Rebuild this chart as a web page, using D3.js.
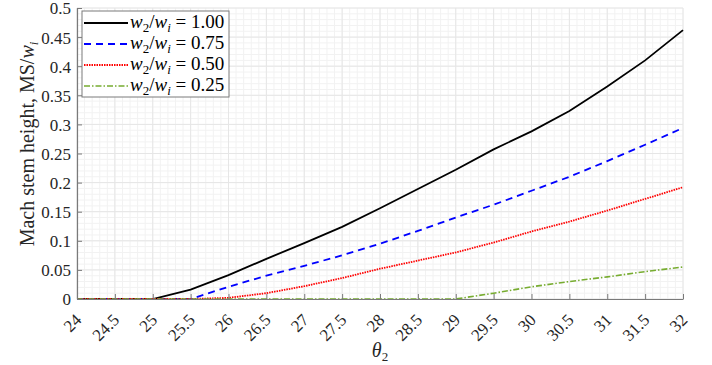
<!DOCTYPE html>
<html>
<head>
<meta charset="utf-8">
<script src="https://cdn.jsdelivr.net/npm/d3@7.9.0/dist/d3.min.js"></script>
<style>
  body { margin: 0; background: #fff; }
  svg { display: block; font-family: "Liberation Serif", "Times New Roman", serif; }
</style>
</head>
<body>
<svg id="chart" width="712" height="365"></svg>
<script>
// values
const theta = [24, 24.5, 25, 25.5, 26, 26.5, 27, 27.5, 28, 28.5, 29, 29.5, 30, 30.5, 31, 31.5, 32];
const ratio100 = [0, 0, 0, 0.016, 0.041, 0.069, 0.096, 0.124, 0.156, 0.189, 0.222, 0.257, 0.288, 0.323, 0.365, 0.41, 0.462];
const ratio075 = [0, 0, 0, 0, 0.021, 0.04, 0.057, 0.075, 0.095, 0.117, 0.14, 0.162, 0.186, 0.21, 0.237, 0.265, 0.294];
const ratio050 = [0, 0, 0, 0, 0.002, 0.01, 0.022, 0.036, 0.052, 0.066, 0.08, 0.097, 0.116, 0.133, 0.152, 0.172, 0.192];
const ratio025 = [0, 0, 0, 0, 0, 0, 0, 0, 0, 0, 0, 0.01, 0.021, 0.03, 0.038, 0.047, 0.055];
const seriesLabels = ['1.00', '0.75', '0.50', '0.25'];
const xTicks = [24, 24.5, 25, 25.5, 26, 26.5, 27, 27.5, 28, 28.5, 29, 29.5, 30, 30.5, 31, 31.5, 32];
const yTicks = [0, 0.05, 0.1, 0.15, 0.2, 0.25, 0.3, 0.35, 0.4, 0.45, 0.5];

const svg = d3.select('#chart');
const plotL = 77, plotR = 683, plotT = 8, plotB = 299;

const x = d3.scaleLinear().domain([24, 32]).range([plotL, plotR]);
const y = d3.scaleLinear().domain([0, 0.5]).range([plotB, plotT]);

// grid, minor then major
const grid = svg.append('g');
grid.selectAll('.vminor')
  .data(d3.range(24, 32.001, 0.1))
  .enter().append('line')
    .attr('x1', d => x(d)).attr('x2', d => x(d))
    .attr('y1', plotT).attr('y2', plotB)
    .attr('stroke', '#f2f2f2').attr('stroke-width', 1);
grid.selectAll('.hminor')
  .data(d3.range(0, 0.5001, 0.01))
  .enter().append('line')
    .attr('x1', plotL).attr('x2', plotR)
    .attr('y1', d => y(d)).attr('y2', d => y(d))
    .attr('stroke', '#f2f2f2').attr('stroke-width', 1);
grid.selectAll('.vmajor')
  .data(xTicks)
  .enter().append('line')
    .attr('x1', d => x(d)).attr('x2', d => x(d))
    .attr('y1', plotT).attr('y2', plotB)
    .attr('stroke', '#e6e6e6').attr('stroke-width', 1);
grid.selectAll('.hmajor')
  .data(yTicks)
  .enter().append('line')
    .attr('x1', plotL).attr('x2', plotR)
    .attr('y1', d => y(d)).attr('y2', d => y(d))
    .attr('stroke', '#e6e6e6').attr('stroke-width', 1);

// curves, drawn in legend order so the last one sits on top
const series = [
  { values: ratio100, color: '#000000', dash: null, width: 1.8 },
  { values: ratio075, color: '#0000ff', dash: '7,5', width: 1.8 },
  { values: ratio050, color: '#ff0000', dash: '1.5,1', width: 1.8 },
  { values: ratio025, color: '#77ac30', dash: '6,2,1.5,2', width: 1.6 }
];

const line = d3.line()
  .x((d, i) => x(theta[i]))
  .y(d => y(d));

series.forEach(s => {
  svg.append('path')
    .datum(s.values)
    .attr('d', line)
    .attr('fill', 'none')
    .attr('stroke', s.color)
    .attr('stroke-width', s.width)
    .attr('stroke-dasharray', s.dash);
});

// axes
const xAxis = svg.append('g')
  .attr('transform', `translate(0,${plotB})`)
  .call(d3.axisBottom(x).tickValues(xTicks).tickSize(-5).tickSizeOuter(0).tickFormat(d3.format('')));
const yAxis = svg.append('g')
  .attr('transform', `translate(${plotL},0)`)
  .call(d3.axisLeft(y).tickValues(yTicks).tickSize(-5).tickSizeOuter(0).tickFormat(d => d3.format('')(+d.toFixed(2))));

[xAxis, yAxis].forEach(a => {
  a.select('.domain').attr('stroke', '#7a7a7a').attr('stroke-width', 1.2);
  a.selectAll('.tick line').attr('stroke', '#7a7a7a');
  a.selectAll('text')
    .attr('fill', '#262626')
    .style('font-family', '"Liberation Serif", serif')
    .style('font-size', '17px');
});

yAxis.selectAll('text').attr('x', -6).attr('dy', '0.35em');

xAxis.selectAll('text')
  .attr('text-anchor', 'end')
  .attr('y', 0)
  .attr('dy', 0)
  .attr('transform', 'translate(5,22) rotate(-45)');

// axis titles
svg.append('text')
  .attr('x', x(28))
  .attr('y', 357)
  .attr('text-anchor', 'middle')
  .style('font-size', '20px')
  .attr('fill', '#262626')
  .call(t => {
    t.append('tspan').style('font-style', 'italic').text('θ');
    t.append('tspan').attr('dy', 4).style('font-size', '13px').text('2');
  });

svg.append('text')
  .attr('transform', 'translate(34,144) rotate(-90)')
  .attr('text-anchor', 'middle')
  .style('font-size', '20px')
  .attr('fill', '#262626')
  .call(t => {
    t.append('tspan').text('Mach stem height, MS/');
    t.append('tspan').style('font-style', 'italic').text('w');
    t.append('tspan').attr('dy', 4).style('font-size', '13px').style('font-style', 'italic').text('i');
  });

// legend
const legend = svg.append('g');
legend.append('rect')
  .attr('x', 82).attr('y', 11)
  .attr('width', 147).attr('height', 86)
  .attr('fill', '#fff')
  .attr('stroke', '#7a7a7a')
  .attr('stroke-width', 1);

series.forEach((s, i) => {
  const ly = 23 + i * 21;
  legend.append('line')
    .attr('x1', 84).attr('x2', 128)
    .attr('y1', ly).attr('y2', ly)
    .attr('stroke', s.color)
    .attr('stroke-width', s.width)
    .attr('stroke-dasharray', s.dash);
  legend.append('text')
    .attr('x', 130).attr('y', ly + 5)
    .style('font-size', '19px')
    .attr('fill', '#000')
    .call(t => {
      t.append('tspan').style('font-style', 'italic').text('w');
      t.append('tspan').attr('dy', 4).style('font-size', '13px').text('2');
      t.append('tspan').attr('dy', -4).text('/');
      t.append('tspan').style('font-style', 'italic').text('w');
      t.append('tspan').attr('dy', 4).style('font-size', '13px').style('font-style', 'italic').text('i');
      t.append('tspan').attr('dy', -4).text(' = ' + seriesLabels[i]);
    });
});
</script>
</body>
</html>
